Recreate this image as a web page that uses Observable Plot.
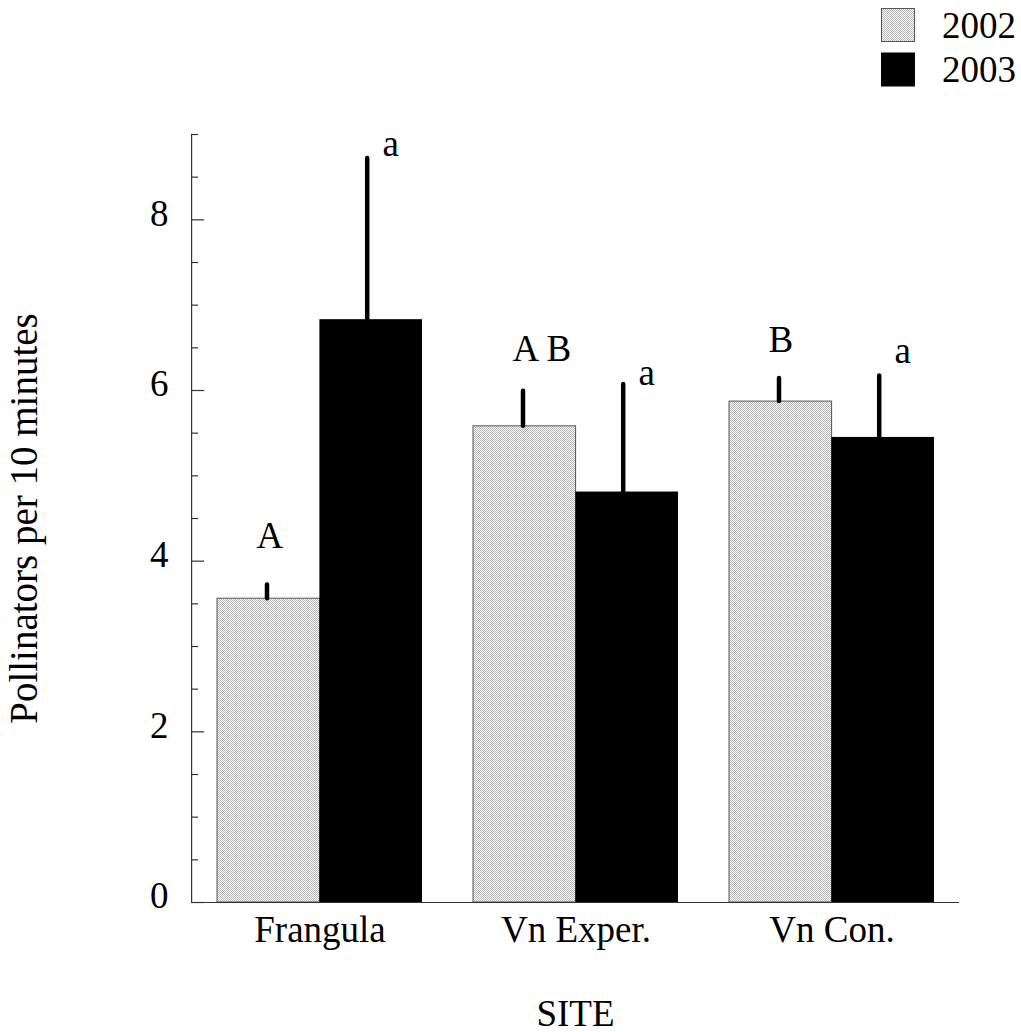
<!DOCTYPE html>
<html>
<head>
<meta charset="utf-8">
<script src="https://cdn.jsdelivr.net/npm/d3@7"></script>
<script src="https://cdn.jsdelivr.net/npm/@observablehq/plot@0.6"></script>
<style>
  body { margin: 0; background: #fff; }
  #wrap { position: relative; width: 1021px; height: 1032px; font-family: "Liberation Serif", "Times New Roman", serif; }
  #legend { position: absolute; left: 870px; top: 0; }
  #fontkick { position: absolute; left: 0; top: 0; font: 12px "DejaVu Sans Mono", monospace; color: #fff; }
</style>
</head>
<body>
<div id="wrap">
  <div id="chart"></div>
  <svg id="legend" width="151" height="95"></svg>
  <div id="fontkick"></div>
</div>
<script>
// ---- data ----
const sites = ["Frangula", "Vn Exper.", "Vn Con."];
const years = ["2002", "2003"];
const mean2002 = [3.56, 5.58, 5.87];
const upper2002 = [3.72, 5.99, 6.14];
const mean2003 = [6.83, 4.81, 5.45];
const upper2003 = [8.72, 6.07, 6.17];
const letters2002 = ["A", "A B", "B"];
const letters2003 = ["a", "a", "a"];
const letterY2002 = [4.16, 6.35, 6.45];
const letterY2003 = [8.75, 6.06, 6.32];
const yTicks = [0, 2, 4, 6, 8];
const yMinorTicks = [0.5, 1, 1.5, 2.5, 3, 3.5, 4.5, 5, 5.5, 6.5, 7, 7.5, 8.5, 9];
const yLabel = "Pollinators per 10 minutes";
const xLabel = "SITE";

const d2002 = sites.map((s, i) => ({site: s, mean: mean2002[i], upper: upper2002[i], letter: letters2002[i], ly: letterY2002[i]}));
const d2003 = sites.map((s, i) => ({site: s, mean: mean2003[i], upper: upper2003[i], letter: letters2003[i], ly: letterY2003[i]}));

const W = 1021, H = 1032;
const mL = 191, mR = 62, mT = 134, mB = 130;
const frameW = W - mL - mR;
const bandW = frameW / 3 * 0.8;
const half = bandW / 2;
const font = "Liberation Serif";

const chart = Plot.plot({
  width: W,
  height: H,
  marginLeft: mL, marginRight: mR, marginTop: mT, marginBottom: mB,
  style: {fontSize: "37px", background: "white", color: "black"},
  x: {domain: sites, paddingInner: 0.2, paddingOuter: 0.1},
  y: {domain: [0, 9]},
  marks: [
    Plot.barY(d2002, {x: "site", y: "mean", insetRight: half, fill: "url(#stipple)", stroke: "#555", strokeWidth: 1}),
    Plot.barY(d2003, {x: "site", y: "mean", insetLeft: half, fill: "black"}),
    Plot.ruleY([0], {stroke: "#333", strokeWidth: 1.2}),
    Plot.rect([0], {y1: 0, y2: 9, insetRight: frameW - 1.2, fill: "#333"}),
    Plot.tickY(yTicks, {y: d => d, insetRight: frameW - 13, stroke: "#333", strokeWidth: 1.2}),
    Plot.tickY(yMinorTicks, {y: d => d, insetRight: frameW - 7, stroke: "#333", strokeWidth: 1.2}),
    Plot.ruleX(d2002, {x: "site", y1: "mean", y2: "upper", dx: -53, stroke: "black", strokeWidth: 4.5, strokeLinecap: "round"}),
    Plot.ruleX(d2003, {x: "site", y1: "mean", y2: "upper", dx: 47.2, stroke: "black", strokeWidth: 4.5, strokeLinecap: "round"}),
    Plot.text(d2002, {x: "site", y: "ly", text: "letter", textAnchor: "start", lineAnchor: "bottom", dx: -half / 2 - 12.3, fontSize: 37, fontFamily: font, fill: "black"}),
    Plot.text(d2003, {x: "site", y: "ly", text: "letter", textAnchor: "start", lineAnchor: "bottom", dx: half / 2 + 11.4, fontSize: 37, fontFamily: font, fill: "black"}),
    Plot.axisY(yTicks, {tickSize: 0, tickPadding: 23, dy: -6, fontSize: 37, fontFamily: font, tickFormat: d => String(d), label: null}),
    Plot.axisX({tickSize: 0, tickPadding: 13, fontSize: 37, fontFamily: font, label: null}),
    Plot.text([xLabel], {frameAnchor: "bottom", dy: 123, lineAnchor: "bottom", fontSize: 37, fontFamily: font, fill: "black"}),
    Plot.text([yLabel], {frameAnchor: "left", rotate: -90, dx: 36 - mL, lineAnchor: "bottom", textAnchor: "middle", fontSize: 39, fontFamily: font, fill: "black"})
  ]
});

function addPattern(svgSel, id) {
  const p = svgSel.insert("defs", ":first-child")
    .append("pattern")
    .attr("id", id).attr("width", 2).attr("height", 2)
    .attr("patternUnits", "userSpaceOnUse");
  p.append("rect").attr("width", 2).attr("height", 2).attr("fill", "#ffffff");
  p.append("rect").attr("width", 1).attr("height", 1).attr("fill", "#b3b3b3");
  p.append("rect").attr("x", 1).attr("y", 1).attr("width", 1).attr("height", 1).attr("fill", "#b3b3b3");
}
addPattern(d3.select(chart), "stipple");
const host = document.getElementById("chart");
host.appendChild(chart);

function applyFont() {
  chart.setAttribute("font-family", font);
  chart.querySelectorAll("text").forEach(t => t.style.setProperty("font-family", font, "important"));
}
applyFont();

// ---- legend ----
const leg = d3.select("#legend");
addPattern(leg, "stippleLeg");
const legFill = {"2002": "url(#stippleLeg)", "2003": "black"};
const legStroke = {"2002": "#555", "2003": "black"};
years.forEach((yr, i) => {
  leg.append("rect")
    .attr("x", 11.5).attr("y", 8.5 + i * 44.5)
    .attr("width", 33).attr("height", 33)
    .attr("fill", legFill[yr]).attr("stroke", legStroke[yr]).attr("stroke-width", 1);
  leg.append("text")
    .attr("x", 72).attr("y", 38.3 + i * 44)
    .attr("font-family", font).attr("font-size", 37).attr("fill", "black")
    .text(yr);
});

// make sure the SVG text is laid out again with the serif face
const t0 = chart.querySelector("text");
if (t0) void getComputedStyle(t0).fontFamily;
void document.styleSheets.length;
document.getElementById("fontkick").textContent = "\u200b";
host.removeChild(chart);
host.appendChild(chart);
applyFont();
if (document.fonts && document.fonts.load) {
  document.fonts.load("37px 'Liberation Serif'").then(() => {
    host.removeChild(chart);
    host.appendChild(chart);
    applyFont();
  });
}
</script>
</body>
</html>
